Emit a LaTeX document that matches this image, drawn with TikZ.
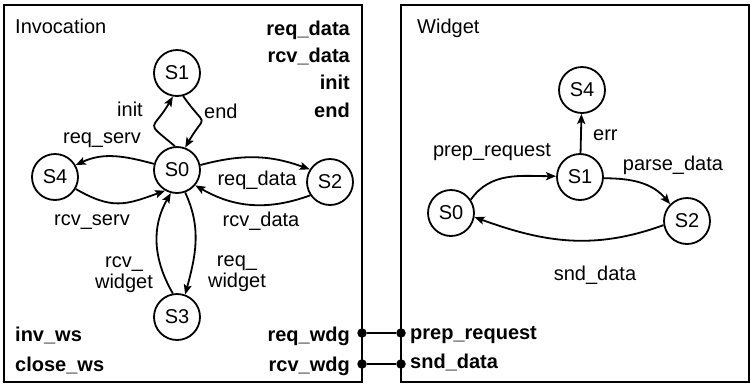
\documentclass[tikz,border=0pt]{standalone}
\usepackage{fontspec}
\setmainfont{Liberation Sans}
\usetikzlibrary{arrows.meta}
\begin{document}
\begin{tikzpicture}[x=1pt,y=1pt,
  every node/.style={font=\fontsize{20}{21}\selectfont, inner sep=0pt},
  state/.style={circle, draw, line width=1.8pt, minimum size=46pt, inner sep=0pt},
  trans/.style={line width=1.8pt, -{Stealth[length=10pt,width=8pt,inset=2pt]}},
  port/.style={font=\fontsize{20}{21}\selectfont\bfseries},
  lbl/.style={anchor=base},
  boxline/.style={line width=2pt},
  dot/.style={circle, fill, minimum size=9.5pt, inner sep=0pt}]
\useasboundingbox (0,0) rectangle (750,-384);
% boxes
\draw[boxline] (4,-5) rectangle (362,-382);
\draw[boxline] (401,-5) rectangle (749,-382);
\node[anchor=base west] (tinv) at (15,-33) {Invocation};
\node[anchor=base west] (twid) at (417,-33) {Widget};
% left ports
\node[port, anchor=base east] (p1) at (350,-35) {req\_data};
\node[port, anchor=base east] (p2) at (350,-62) {rcv\_data};
\node[port, anchor=base east] (p3) at (350,-89) {init};
\node[port, anchor=base east] (p4) at (350,-117) {end};
\node[port, anchor=base west] (p5) at (15,-341) {inv\_ws};
\node[port, anchor=base west] (p6) at (15,-371) {close\_ws};
\node[port, anchor=base east] (p7) at (350,-341) {req\_wdg};
\node[port, anchor=base east] (p8) at (350,-371) {rcv\_wdg};
\node[port, anchor=base west] (p9) at (410,-339) {prep\_request};
\node[port, anchor=base west] (p10) at (410,-368) {snd\_data};
% connecting dots
\node[dot] (da) at (362,-333) {};
\node[dot] (db) at (401,-333) {};
\node[dot] (dc) at (362,-364) {};
\node[dot] (dd) at (401,-364) {};
\draw[boxline] (da) -- (db);
\draw[boxline] (dc) -- (dd);
% left states
\node[state] (S1) at (177,-73) {S1};
\node[state] (S0) at (177,-170) {S0};
\node[state] (S4) at (55,-177) {S4};
\node[state] (S2) at (330,-182) {S2};
\node[state] (S3) at (177,-317) {S3};
\draw[trans] (S0.95) to[out=140,in=-120,looseness=2.1] (S1.-100);
\draw[trans] (S1.-75) to[out=-55,in=60,looseness=2.1] (S0.70);
\draw[trans] (S0.165) to[out=165,in=25] (S4.30);
\draw[trans] (S4.-30) to[out=-30,in=-160,looseness=1.2] (S0.-120);
\draw[trans] (S0.12) to[out=15,in=160] (S2.148);
\draw[trans] (S2.-146) to[out=-160,in=-30] (S0.-40);
\draw[trans] (S0.-70) to[out=-65,in=75] (S3.70);
\draw[trans] (S3.100) to[out=120,in=-120] (S0.-105);
\node[anchor=base east] (l1) at (143,-116) {init};
\node[anchor=base west] (l2) at (204,-118) {end};
\node[lbl] (l3) at (102,-143) {req\_serv};
\node[lbl] (l4) at (257,-185) {req\_data};
\node[lbl] (l5) at (92,-225) {rcv\_serv};
\node[lbl] (l6) at (261,-226) {rcv\_data};
\node[lbl, align=center] (l7) at (124,-288) {rcv\_\\widget};
\node[lbl, align=center] (l8) at (237,-287) {req\_\\widget};
% right states
\node[state] (R4) at (582,-90) {S4};
\node[state] (R1) at (580,-177) {S1};
\node[state] (R0) at (451,-213) {S0};
\node[state] (R2) at (687,-221) {S2};
\draw[trans] (R1) -- (R4);
\draw[trans] (R0.34) to[out=55,in=180] (R1.178);
\draw[trans] (R1.-3) to[out=0,in=130] (R2.135);
\draw[trans] (R2.190) to[out=200,in=-20] (R0.-10);
\node[anchor=base west] (r1) at (593,-140) {err};
\node[lbl] (r2) at (492,-156) {prep\_request};
\node[lbl] (r3) at (673,-170) {parse\_data};
\node[lbl] (r4) at (595,-280) {snd\_data};
\end{tikzpicture}
\end{document}
